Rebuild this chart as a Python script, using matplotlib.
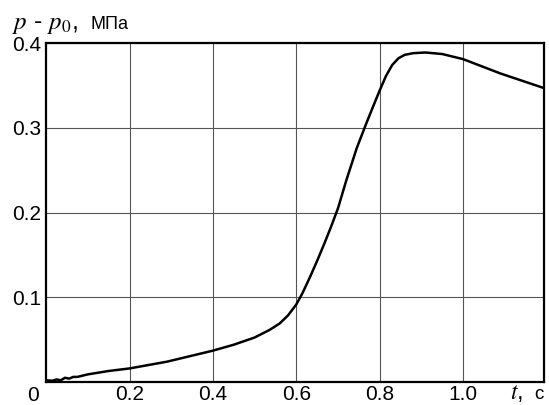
import numpy as np
import matplotlib.pyplot as plt

plt.rcParams['font.family'] = ['Liberation Sans', 'DejaVu Sans']
plt.rcParams['mathtext.fontset'] = 'stix'

# Pressure rise curve:
t = [0.0, 0.015, 0.025, 0.035, 0.045, 0.055, 0.065, 0.075, 0.1, 0.15, 0.2, 0.29,
     0.4, 0.45, 0.5, 0.536, 0.56, 0.58, 0.6, 0.615, 0.633, 0.65, 0.667, 0.684,
     0.7, 0.72, 0.745, 0.767, 0.785, 0.8, 0.815, 0.83, 0.845, 0.86, 0.88, 0.91,
     0.95, 1.0, 1.09, 1.193]
p = [0.002, 0.0015, 0.003, 0.002, 0.005, 0.004, 0.006, 0.006, 0.009, 0.013,
     0.016, 0.024, 0.037, 0.044, 0.0525, 0.0615, 0.069, 0.0785, 0.0915, 0.105,
     0.124, 0.143, 0.163, 0.184, 0.205, 0.238, 0.276, 0.304, 0.326, 0.344,
     0.361, 0.374, 0.382, 0.386, 0.388, 0.3888, 0.387, 0.381, 0.364, 0.347]
xticks = [0.2, 0.4, 0.6, 0.8, 1.0]
yticks = [0.1, 0.2, 0.3, 0.4]

fig = plt.figure(figsize=(5.49, 4.05), dpi=100)
ax = fig.add_axes([0.0841, 0.0568, 0.9059, 0.837])

ax.plot(t, p, color='black', lw=1.8)

ax.set_xlim(0, 1.193)
ax.set_ylim(0, 0.4)
ax.set_xticks(xticks)
ax.set_xticklabels(['%.1f' % v for v in xticks])
ax.set_yticks(yticks)
ax.set_yticklabels(['%.1f' % v for v in yticks])
ax.tick_params(length=0, labelsize=15)
ax.tick_params(axis='x', pad=2)
ax.tick_params(axis='y', pad=3.5)
ax.grid(True, color='#555555', lw=0.8)
for s in ax.spines.values():
    s.set_linewidth(1.6)

fig.text(33 / 549, 1 - 401 / 405, '0', fontsize=15, ha='center', va='baseline')
fig.text(12 / 549, 1 - 29 / 405, r'$p$ - $p_0$,', fontsize=18, ha='left', va='baseline')
fig.text(90 / 549, 1 - 29 / 405, 'МПа', fontsize=13, ha='left', va='baseline')
fig.text(510 / 549, 1 - 399 / 405, r'$t$,', fontsize=17, ha='left', va='baseline')
fig.text(534 / 549, 1 - 399 / 405, 'с', fontsize=13.5, ha='left', va='baseline')

fig.savefig('out.png', dpi=100)
